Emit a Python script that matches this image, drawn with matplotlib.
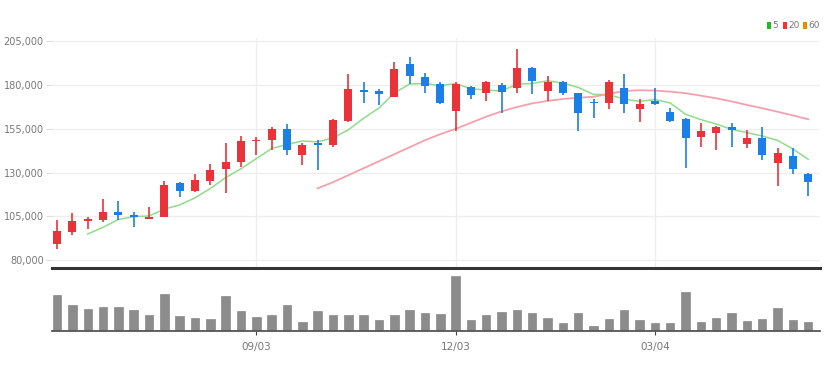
import numpy as np
import matplotlib
matplotlib.use("Agg")
import matplotlib.pyplot as plt
from matplotlib.patches import Rectangle
from matplotlib.ticker import FuncFormatter

# weekly candles (price)
opens = [89150, 96190, 102480, 102880, 107290, 105570, 103450, 104770, 123880, 119650,
         125360, 132060, 136230, 147900, 148640, 155130, 140060, 146530, 145780, 159680,
         177240, 176850, 173420, 192130, 184500, 180500, 165400, 179130, 175360, 180100,
         178560, 190000, 176670, 182000, 175360, 170380, 169630, 178560, 166560, 170950,
         164840, 160480, 150530, 152820, 155910, 146180, 149960, 135310, 139490, 129200]
highs = [102900, 107060, 104770, 114720, 113750, 107460, 110150, 125020, 124790, 129200,
         134920, 147100, 150930, 150530, 155900, 157620, 146760, 148640, 160480, 186220,
         182000, 177640, 193440, 196310, 187150, 182000, 182000, 179530, 182570, 181070,
         200530, 190570, 185260, 182570, 175700, 171920, 182960, 186400, 171920, 178220,
         167130, 161060, 158540, 156650, 158190, 154360, 156250, 143900, 143900, 129940]
lows = [86120, 94300, 97560, 101910, 102880, 98700, 103400, 104500, 115870, 119070,
        122900, 118500, 133370, 140060, 142920, 140060, 134340, 131480, 144810, 159110,
        170000, 168670, 173070, 180690, 175700, 169060, 153960, 171920, 170950, 164260,
        175700, 174950, 170950, 174400, 153960, 161060, 166200, 164260, 159110, 168670,
        159110, 132460, 144810, 142920, 144810, 143900, 137210, 122330, 129200, 116610]
closes = [96760, 102480, 103630, 107290, 105740, 104600, 104770, 122900, 119650, 125770,
          131480, 135890, 148240, 148640, 154760, 142920, 145780, 145780, 160080, 177640,
          176290, 174790, 189090, 185260, 179700, 169630, 180690, 174400, 182000, 176290,
          189660, 182570, 182000, 175360, 163920, 169630, 182000, 169060, 169060, 169240,
          159680, 149610, 153960, 156250, 154360, 149960, 140060, 141380, 131880, 124790]
volumes = [363, 263, 223, 243, 243, 210, 163, 373, 147, 130,
           123, 347, 197, 137, 157, 263, 90, 197, 163, 163,
           157, 107, 163, 210, 180, 173, 550, 113, 157, 190,
           213, 180, 130, 80, 180, 47, 123, 213, 113, 80,
           77, 393, 87, 130, 180, 103, 123, 230, 113, 87]
ma5 = [None, None, 94870, 98700, 103180, 104750, 105210, 109060, 111530, 115540,
       120910, 127140, 132210, 138000, 143800, 146090, 148070, 147580, 149860, 154440,
       161110, 166920, 175580, 180610, 181030, 179690, 180870, 177940, 177280, 176600,
       180610, 180980, 182500, 181180, 178700, 174700, 174580, 171990, 170730, 171800,
       169810, 163330, 160310, 157750, 154770, 152830, 150920, 148400, 143530, 137610]
ma20 = [None] * 17 + [121000, 124500, 128500,
        132500, 136500, 140500, 144500, 148500, 152000, 155000, 158500, 162000, 165000,
        167500, 169600, 171000, 172100, 172800, 173400, 175000, 176700, 177100, 176900,
        176300, 175400, 174000, 172500, 170700, 168700, 166800, 164800, 162700, 160500]
tick_pos = [13, 26, 39]
tick_labels = ["09/03", "12/03", "03/04"]
price_ticks = [80000, 105000, 130000, 155000, 180000, 205000]

UP = "#ea3339"
DOWN = "#1c7fe6"
FONT = ["Liberation Sans Narrow", "DejaVu Sans"]
W, H = 837, 372

fig = plt.figure(figsize=(W / 100, H / 100), dpi=100)
ax = fig.add_axes([52 / W, 104 / H, 768 / W, 230 / H])
axv = fig.add_axes([52 / W, 41 / H, 768 / W, 60 / H], sharex=ax)

x = np.arange(len(closes))
o = np.array(opens, float)
c = np.array(closes, float)
up = c >= o
colors = np.where(up, UP, DOWN)

# wicks + bodies
ax.vlines(x, lows, highs, colors=colors, linewidth=1.2, zorder=3)
body_lo = np.minimum(o, c)
body_h = np.maximum(np.abs(c - o), 900)
ax.bar(x, body_h, bottom=body_lo, width=0.52, color=colors, linewidth=0, zorder=4)

ma5_arr = np.array([np.nan if v is None else v for v in ma5], float)
ma20_arr = np.array([np.nan if v is None else v for v in ma20], float)
ax.plot(x, ma5_arr, color="#8fdc8c", linewidth=1.1, zorder=2)
ax.plot(x, ma20_arr, color="#f5a1ab", linewidth=1.3, zorder=2)

ax.set_xlim(-0.33, 49.77)
ax.set_ylim(75420, 206980)
ax.set_yticks(price_ticks)
ax.yaxis.set_major_formatter(FuncFormatter(lambda v, p: f"{int(v):,}"))
ax.set_xticks(tick_pos)
ax.tick_params(axis="x", length=0, labelbottom=False)
ax.tick_params(axis="y", length=4, color="#dddddd", labelcolor="#777777", labelsize=7, pad=2)
for lab in ax.get_yticklabels():
    lab.set_family(FONT)
ax.grid(True, color="#eeeeee", linewidth=0.9, zorder=0)
for s in ("top", "right", "left"):
    ax.spines[s].set_visible(False)
ax.spines["bottom"].set_color("#333333")
ax.spines["bottom"].set_linewidth(2.2)

# volume panel
axv.bar(x, volumes, width=0.55, color="#8c8c8c", edgecolor="#7a7a7a", linewidth=0.4)
axv.set_ylim(0, 600)
axv.set_yticks([])
axv.set_xticks(tick_pos)
axv.set_xticklabels(tick_labels, family=FONT)
axv.tick_params(axis="x", length=3, color="#444444", labelcolor="#777777", labelsize=7.5, pad=5)
for s in ("top", "right", "left"):
    axv.spines[s].set_visible(False)
axv.spines["bottom"].set_color("#555555")
axv.spines["bottom"].set_linewidth(1.3)

# legend (top right)
legend_items = [("5", "#22bb22", 767.5), ("20", "#ee3333", 783.0), ("60", "#ee8800", 803.0)]
for label, col, lx in legend_items:
    fig.add_artist(Rectangle((lx / W, 1 - 28.5 / H), 4 / W, 6.5 / H,
                             transform=fig.transFigure, color=col, linewidth=0))
    fig.text((lx + 5) / W, 1 - 25.3 / H, label, fontsize=6.5, color="#777777",
             va="center", ha="left", family=FONT)

fig.savefig("out.png", dpi=100)
